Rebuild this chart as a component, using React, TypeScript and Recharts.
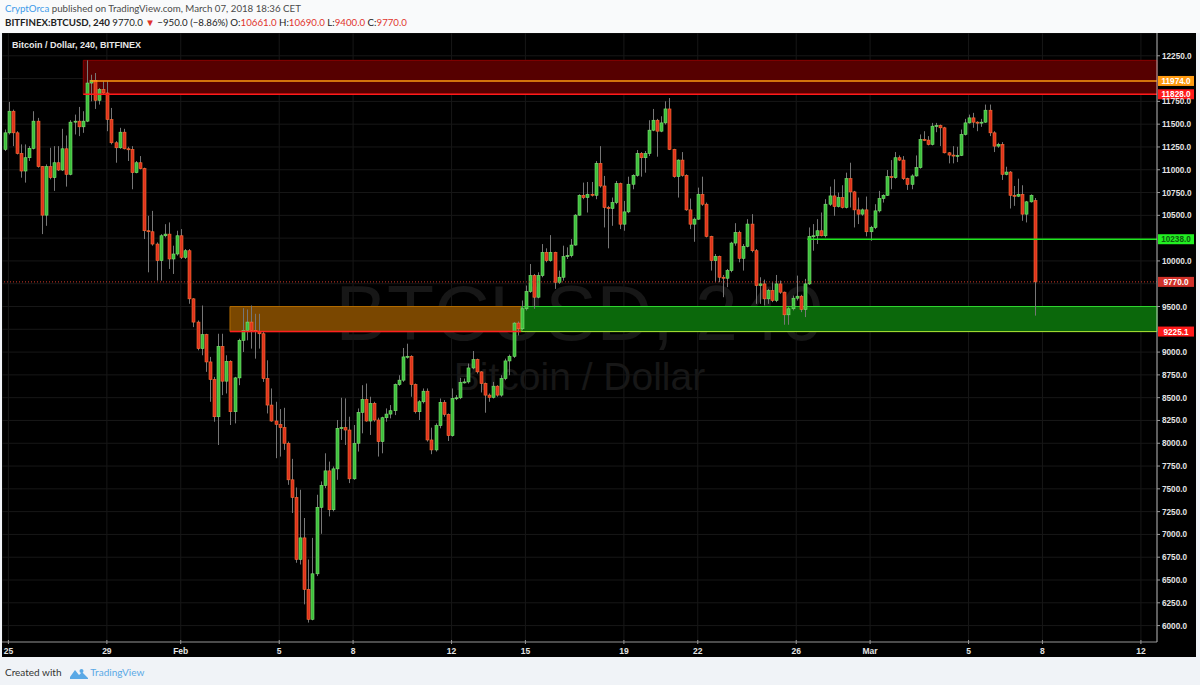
import React from 'react';
import {
  ComposedChart,
  Bar,
  XAxis,
  YAxis,
  CartesianGrid,
  ReferenceArea,
  ReferenceLine,
} from 'recharts';

// BITFINEX:BTCUSD 240 (4h) candles. Slot 0 = Jan 25 00:00 UTC, first candle is one slot earlier.
const FIRST_SLOT = -1;

const opens = [
  11223, 11405, 11642, 11405, 11179, 10986, 11132, 11234, 11533, 11034,
  10502, 11034, 10913, 11077, 10997, 11230, 10950, 11522, 11533, 11471,
  11533, 11951, 11980, 11762, 11879, 11842, 11551, 11296, 11241, 11412,
  11230, 11223, 10968, 11077, 11012, 10331, 10320, 10185, 10003, 10276,
  10294, 10021, 10076, 10276, 10039, 10112, 9584, 9329, 9038, 9191,
  8892, 8699, 8291, 9063, 8681, 8899, 8346, 8717, 9129, 9238,
  9329, 9238, 9227, 9201, 8710, 8419, 8244, 8207, 8171, 8000,
  7599, 7406, 6725, 6962, 6397, 6069, 6568, 7297, 7537, 7697,
  7271, 7719, 8164, 8171, 8145, 7610, 8000, 8338, 8480, 8244,
  8437, 8255, 8018, 8280, 8320, 8357, 8644, 8692, 8947, 8954,
  8644, 8346, 8455, 8571, 8036, 7927, 8193, 8448, 8317, 8083,
  8491, 8499, 8666, 8673, 8826, 8917, 8783, 8655, 8528, 8502,
  8626, 8528, 8710, 8903, 8954, 9318, 9256, 9475, 9664, 9839,
  9602, 9839, 10094, 10003, 10094, 9766, 9821, 10047, 10058, 10174,
  10502, 10720, 10695, 10731, 10720, 11070, 10822, 10586, 10575, 10640,
  10848, 10403, 10538, 10841, 10939, 11179, 11132, 11179, 11434, 11543,
  11423, 11514, 11667, 11223, 10924, 11106, 10939, 10560, 10403, 10458,
  10731, 10622, 10269, 10003, 10050, 9821, 9810, 9894, 10196, 10312,
  10028, 10160, 10404, 10112, 9730, 9748, 9584, 9675, 9566, 9748,
  9657, 9409, 9475, 9591, 9613, 9468, 9748, 10269, 10276, 10331,
  10276, 10622, 10713, 10596, 10695, 10586, 10902, 10757, 10560, 10513,
  10560, 10320, 10367, 10549, 10684, 10720, 10924, 10913, 11132, 11106,
  10902, 10840, 10932, 11023, 11332, 11325, 11278, 11478, 11485, 11460,
  11186, 11161, 11150, 11157, 11387, 11514, 11569, 11522, 11514, 11522,
  11653, 11405, 11259, 11278, 10950, 10975, 10720, 10710, 10731, 10513,
  10648, 10661,
];

const highs = [
  11441, 11744, 11660, 11423, 11278, 11278, 11259, 11642, 11569, 11041,
  11059, 11241, 11259, 11259, 11449, 11376, 11544, 11605, 11689, 11642,
  12200, 12042, 12061, 11897, 11970, 11970, 11678, 11314, 11460, 11449,
  11252, 11259, 11096, 11150, 11023, 10495, 10549, 10203, 10294, 10403,
  10422, 10167, 10331, 10349, 10130, 10130, 9591, 9347, 9511, 9201,
  8947, 8728, 9201, 9201, 8965, 8910, 8728, 9147, 9482, 9467,
  9511, 9420, 9420, 9220, 8910, 8601, 8455, 8375, 8389, 8018,
  7829, 7515, 7490, 7180, 6725, 6962, 7435, 7581, 7890, 7799,
  7745, 8255, 8499, 8492, 8291, 8200, 8382, 8637, 8655, 8510,
  8455, 8280, 8291, 8382, 8419, 8655, 8746, 9045, 9092, 8965,
  8655, 8473, 8601, 8601, 8171, 8218, 8491, 8473, 8327, 8601,
  8528, 8717, 8710, 8874, 9012, 8928, 8790, 8666, 8546, 8673,
  8637, 8746, 8928, 8972, 9329, 9336, 9566, 9730, 9966, 9857,
  9875, 10185, 10138, 10283, 10101, 9894, 10167, 10149, 10240, 10513,
  10731, 10859, 10866, 10866, 11095, 11259, 10932, 10604, 10695, 10877,
  10859, 10658, 10924, 10950, 11216, 11194, 11205, 11543, 11667, 11558,
  11587, 11751, 11787, 11230, 11114, 11194, 10950, 10684, 10476, 10804,
  10924, 10640, 10276, 10076, 10058, 9846, 9912, 10210, 10414, 10331,
  10185, 10458, 10513, 10130, 9821, 9795, 9693, 9766, 9846, 9784,
  9664, 9493, 9620, 9839, 9628, 9803, 10367, 10404, 10458, 10531,
  10677, 10815, 10895, 10750, 10830, 10968, 11077, 10768, 10695, 10575,
  10706, 10385, 10622, 10768, 10731, 10997, 11106, 11194, 11157, 11150,
  10913, 10950, 11157, 11387, 11423, 11369, 11514, 11514, 11496, 11471,
  11194, 11259, 11252, 11441, 11558, 11605, 11624, 11532, 11558, 11715,
  11715, 11423, 11296, 11303, 11033, 10986, 10822, 10902, 10830, 10658,
  10730, 10690,
];

const lows = [
  11205, 11387, 11259, 11168, 10913, 10859, 11096, 11223, 11023, 10294,
  10385, 10895, 10768, 10986, 10986, 10815, 10939, 11387, 11369, 11405,
  11522, 11751, 11667, 11715, 11824, 11423, 11278, 11077, 11230, 11223,
  11096, 10786, 10961, 11004, 10240, 9875, 10167, 9784, 9784, 10258,
  9912, 9857, 10058, 10021, 10021, 9530, 9274, 9019, 8965, 8783,
  8455, 8236, 7981, 8528, 8546, 8200, 8218, 8637, 9001, 9129,
  9038, 8928, 9038, 8673, 8327, 8236, 7836, 7854, 7927, 7544,
  7235, 6689, 6670, 6233, 6033, 6058, 6543, 7007, 7508, 7198,
  7253, 7599, 8036, 7981, 7563, 7599, 7909, 8109, 8236, 8091,
  8236, 7854, 7890, 8236, 8273, 8309, 8630, 8673, 8928, 8510,
  8327, 8255, 8437, 8018, 7880, 7909, 8164, 8291, 8025, 8073,
  8473, 8484, 8655, 8655, 8812, 8764, 8557, 8335, 8455, 8491,
  8510, 8510, 8692, 8746, 8936, 9183, 9238, 9456, 9650, 9475,
  9590, 9821, 9985, 9992, 9693, 9748, 9784, 10021, 10039, 10167,
  10495, 10677, 10531, 10706, 10677, 10804, 10367, 10138, 10385, 10622,
  10349, 10331, 10524, 10786, 10924, 10924, 10968, 11150, 11423, 11143,
  11412, 11496, 11216, 10913, 10695, 10924, 10549, 10349, 10210, 10451,
  10604, 10258, 9894, 9766, 9766, 9602, 9712, 9875, 10167, 9985,
  9894, 10149, 10094, 9529, 9529, 9511, 9529, 9548, 9548, 9639,
  9300, 9300, 9457, 9566, 9438, 9384, 9737, 10112, 10185, 10269,
  10258, 10604, 10495, 10586, 10575, 10575, 10586, 10367, 10404, 10495,
  10269, 10221, 10349, 10531, 10640, 10713, 10786, 10902, 11095, 10888,
  10779, 10786, 10924, 11012, 11314, 11267, 11267, 11412, 11259, 11179,
  11070, 11070, 11084, 11150, 11376, 11507, 11460, 11423, 11471, 11514,
  11369, 11194, 11241, 10888, 10939, 10575, 10604, 10700, 10440, 10422,
  10640, 9400,
];

const closes = [
  11405, 11642, 11405, 11179, 10986, 11132, 11234, 11533, 11034, 10502,
  11034, 10913, 11077, 10997, 11230, 10950, 11522, 11533, 11471, 11533,
  11951, 11980, 11762, 11879, 11842, 11551, 11296, 11241, 11412, 11230,
  11223, 10968, 11077, 11012, 10331, 10320, 10185, 10003, 10276, 10294,
  10021, 10076, 10276, 10039, 10112, 9584, 9329, 9038, 9191, 8892,
  8699, 8291, 9063, 8681, 8899, 8346, 8717, 9129, 9238, 9329,
  9238, 9227, 9201, 8710, 8419, 8244, 8207, 8171, 8000, 7599,
  7406, 6725, 6962, 6397, 6069, 6568, 7297, 7537, 7697, 7271,
  7719, 8164, 8171, 8145, 7610, 8000, 8338, 8480, 8244, 8437,
  8255, 8018, 8280, 8320, 8357, 8644, 8692, 8947, 8954, 8644,
  8346, 8455, 8571, 8036, 7927, 8193, 8448, 8317, 8083, 8491,
  8499, 8666, 8673, 8826, 8917, 8783, 8655, 8528, 8502, 8626,
  8528, 8710, 8903, 8954, 9318, 9256, 9475, 9664, 9839, 9602,
  9839, 10094, 10003, 10094, 9766, 9821, 10047, 10058, 10174, 10502,
  10720, 10695, 10731, 10720, 11070, 10822, 10586, 10575, 10640, 10848,
  10403, 10538, 10841, 10939, 11179, 11132, 11179, 11434, 11543, 11423,
  11514, 11667, 11223, 10924, 11106, 10939, 10560, 10403, 10458, 10731,
  10622, 10269, 10003, 10050, 9821, 9810, 9894, 10196, 10312, 10028,
  10160, 10404, 10112, 9730, 9748, 9584, 9675, 9566, 9748, 9657,
  9409, 9475, 9591, 9613, 9468, 9748, 10269, 10276, 10331, 10276,
  10622, 10713, 10596, 10695, 10586, 10902, 10757, 10560, 10513, 10560,
  10320, 10367, 10549, 10684, 10720, 10924, 10913, 11132, 11106, 10902,
  10840, 10932, 11023, 11332, 11325, 11278, 11478, 11485, 11460, 11186,
  11161, 11150, 11157, 11387, 11514, 11569, 11522, 11514, 11522, 11653,
  11405, 11259, 11278, 10950, 10975, 10720, 10710, 10731, 10513, 10648,
  10720, 9770,
];

// date axis: slot index of each day label (6 slots per day)
const xTicks = [0, 24, 42, 66, 84, 108, 126, 150, 168, 192, 210, 234, 252, 276];
const xTickLabels = ['25', '29', 'Feb', '5', '8', '12', '15', '19', '22', '26', 'Mar', '5', '8', '12'];
const X_DOMAIN = [-1.56, 279.92];

const yTicks = [
  6000, 6250, 6500, 6750, 7000, 7250, 7500, 7750, 8000, 8250, 8500, 8750, 9000,
  9250, 9500, 9750, 10000, 10250, 10500, 10750, 11000, 11250, 11500, 11750, 12000, 12250,
];
const hiddenYTicks = [12000, 10250, 9750, 9250]; // covered by the price tags
const Y_DOMAIN = [5820, 12500];

// drawn levels
const supplyZone = { from: 18.25, top: 12200, bottom: 11828 };
const orangeLevel = { from: 20, price: 11974 };
const oldZone = { from: 54, to: 125, top: 9500, bottom: 9225.1 };
const demandZone = { from: 125, top: 9500, bottom: 9225.1 };
const breakLevel = { from: 194.7, price: 10238 };
const lastPrice = 9770;

const candles = closes.map((c, i) => ({
  t: FIRST_SLOT + i,
  open: opens[i],
  high: highs[i],
  low: lows[i],
  close: c,
}));

const UP = '#3cbf3c';
const UP_EDGE = '#7fe274';
const DOWN = '#dc321d';
const DOWN_EDGE = '#ff7035';
const WICK = '#767676';
const AXIS_FONT = '"Liberation Sans", Arial, sans-serif';

const Candle = (props: any) => {
  const { x, y, width, height, payload } = props;
  if (!payload || x == null || y == null) return null;
  const { open, close, high, low } = payload;
  const up = close >= open;
  const cx = Math.round(x + width / 2) + 0.5;
  const span = high - low;
  const k = span > 0 ? height / span : 0;
  const yO = y + (high - open) * k;
  const yC = y + (high - close) * k;
  const top = Math.min(yO, yC);
  const bh = Math.max(1, Math.abs(yO - yC));
  return (
    <g>
      <line x1={cx} x2={cx} y1={y} y2={y + height} stroke={WICK} strokeWidth={1} />
      <rect
        x={cx - 1.5}
        y={top}
        width={3}
        height={bh}
        fill={up ? UP : DOWN}
        stroke={up ? UP_EDGE : DOWN_EDGE}
        strokeWidth={0.6}
      />
    </g>
  );
};

const PriceTick = (props: any) => {
  const { x, y, payload } = props;
  if (hiddenYTicks.includes(payload.value)) return null;
  return (
    <g>
      <line x1={x} x2={x + 3} y1={y} y2={y} stroke="#9a9a9a" />
      <text x={x + 5} y={y + 3} fill="#e4e4e4" fontSize={8.2} fontWeight="bold" fontFamily={AXIS_FONT}>
        {payload.value.toFixed(1)}
      </text>
    </g>
  );
};

const DateTick = (props: any) => {
  const { x, y, payload } = props;
  const i = xTicks.indexOf(payload.value);
  return (
    <g>
      <line x1={x} x2={x} y1={y - 2} y2={y + 2} stroke="#9a9a9a" />
      <text x={x} y={y + 12} textAnchor="middle" fill="#e4e4e4" fontSize={8.5} fontWeight="bold" fontFamily={AXIS_FONT}>
        {xTickLabels[i]}
      </text>
    </g>
  );
};

const tag = (text: string, bg: string, fg: string) => (props: any) => {
  const vb = props.viewBox || {};
  const right = (vb.x || 0) + (vb.width || 0);
  const cy = (vb.y || 0) + (vb.height || 0) / 2;
  return (
    <g>
      <rect x={right + 1} y={cy - 5} width={36} height={10} fill={bg} />
      <text x={right + 19} y={cy + 3} textAnchor="middle" fill={fg} fontSize={8.2} fontWeight="bold" fontFamily={AXIS_FONT}>
        {text}
      </text>
    </g>
  );
};

const TvLogo = () => (
  <svg width={18} height={11} viewBox="0 0 18 11" style={{ verticalAlign: 'middle' }}>
    <path d="M0 9 L5 2 L9 7 L12 4 L18 10 L18 11 L0 11 Z" fill="#5aa9e6" />
    <circle cx={11.5} cy={3} r={2} fill="#5aa9e6" />
  </svg>
);

export default function App() {
  return (
    <div
      style={{
        position: 'absolute',
        left: 0,
        top: 0,
        width: 1200,
        height: 685,
        background: '#f0f3f7',
        overflow: 'hidden',
        fontFamily: 'Lato, sans-serif',
      }}
    >
      {/* header */}
      <div style={{ position: 'absolute', left: 0, top: 0, width: 1200, height: 33, background: '#f9fafb' }} />
      <div style={{ position: 'absolute', left: 5, top: 1, fontSize: 9.7, lineHeight: '14px', color: '#4a4a4a', whiteSpace: 'nowrap' }}>
        <span style={{ color: '#3d9be9' }}>CryptOrca</span> published on TradingView.com, March 07, 2018 18:36 CET
      </div>
      <div style={{ position: 'absolute', left: 5, top: 15, fontSize: 9.7, lineHeight: '14px', color: '#222', whiteSpace: 'nowrap' }}>
        <b>BITFINEX:BTCUSD, 240</b> 9770.0 <span style={{ color: '#e0332b' }}>▼</span> −950.0 (−8.86%){' '}
        O:<span style={{ color: '#e0332b' }}>10661.0</span> H:<span style={{ color: '#e0332b' }}>10690.0</span>{' '}
        L:<span style={{ color: '#e0332b' }}>9400.0</span> C:<span style={{ color: '#e0332b' }}>9770.0</span>
      </div>

      {/* chart panel */}
      <div style={{ position: 'absolute', left: 2, top: 33, width: 1194, height: 624, background: '#000' }}>
        <div
          style={{
            position: 'absolute',
            left: 0,
            width: 1155,
            top: 240,
            textAlign: 'center',
            fontFamily: AXIS_FONT,
            fontSize: 77,
            lineHeight: '80px',
            color: '#171717',
            whiteSpace: 'nowrap',
          }}
        >
          BTCUSD, 240
        </div>
        <div
          style={{
            position: 'absolute',
            left: 0,
            width: 1155,
            top: 322,
            textAlign: 'center',
            fontFamily: AXIS_FONT,
            fontSize: 39,
            lineHeight: '44px',
            color: '#171717',
            whiteSpace: 'nowrap',
          }}
        >
          Bitcoin / Dollar
        </div>
        <div style={{ position: 'absolute', left: 0, top: 0 }}>
          <ComposedChart width={1194} height={624} data={candles} margin={{ top: 0, right: 0, bottom: 0, left: 0 }}>
            <CartesianGrid stroke="#171717" />
            <XAxis
              type="number"
              dataKey="t"
              domain={X_DOMAIN}
              ticks={xTicks}
              interval={0}
              allowDataOverflow
              height={15}
              tickSize={0}
              tickMargin={0}
              tick={<DateTick />}
              axisLine={{ stroke: '#8c8c8c' }}
              tickLine={false}
            />
            <YAxis
              orientation="right"
              domain={Y_DOMAIN}
              ticks={yTicks}
              interval={0}
              allowDataOverflow
              width={39}
              tickSize={0}
              tickMargin={0}
              tick={<PriceTick />}
              axisLine={{ stroke: '#b0b0b0' }}
              tickLine={false}
            />
            <Bar
              dataKey={(d: any) => [d.low, d.high]}
              barSize={3}
              shape={<Candle />}
              isAnimationActive={false}
            />
            <ReferenceArea
              x1={supplyZone.from}
              x2={X_DOMAIN[1]}
              y1={supplyZone.bottom}
              y2={supplyZone.top}
              fill="#560000"
              fillOpacity={1}
              stroke="#8a0000"
              strokeWidth={1}
              ifOverflow="visible"
            />
            <ReferenceArea
              x1={oldZone.from}
              x2={oldZone.to}
              y1={oldZone.bottom}
              y2={oldZone.top}
              fill="#7a4700"
              fillOpacity={1}
              stroke="#b06a00"
              strokeWidth={1}
              ifOverflow="visible"
            />
            <ReferenceArea
              x1={demandZone.from}
              x2={X_DOMAIN[1]}
              y1={demandZone.bottom}
              y2={demandZone.top}
              fill="#0b680b"
              fillOpacity={1}
              stroke="#2fd42f"
              strokeWidth={1}
              ifOverflow="visible"
            />
            <ReferenceLine
              y={lastPrice}
              stroke="#d23a2a"
              strokeDasharray="1 2"
              ifOverflow="visible"
              label={tag('9770.0', '#d0322a', '#ffffff')}
            />
            <ReferenceLine
              segment={[
                { x: oldZone.from, y: oldZone.bottom },
                { x: oldZone.to, y: oldZone.bottom },
              ]}
              stroke="#ff2020"
              strokeWidth={1.5}
              ifOverflow="visible"
            />
            <ReferenceLine
              segment={[
                { x: demandZone.from, y: demandZone.bottom },
                { x: X_DOMAIN[1], y: demandZone.bottom },
              ]}
              stroke="#a8d830"
              strokeWidth={1}
              ifOverflow="visible"
              label={tag('9225.1', '#ff1a1a', '#ffffff')}
            />
            <ReferenceLine
              segment={[
                { x: breakLevel.from, y: breakLevel.price },
                { x: X_DOMAIN[1], y: breakLevel.price },
              ]}
              stroke="#1ee61e"
              strokeWidth={1.5}
              ifOverflow="visible"
              label={tag('10238.0', '#22f022', '#0f5a0f')}
            />
            <ReferenceLine
              segment={[
                { x: orangeLevel.from, y: orangeLevel.price },
                { x: X_DOMAIN[1], y: orangeLevel.price },
              ]}
              stroke="#ff9a10"
              strokeWidth={1.5}
              ifOverflow="visible"
              label={tag('11974.0', '#ff9a10', '#ffffff')}
            />
            <ReferenceLine
              segment={[
                { x: supplyZone.from, y: supplyZone.bottom },
                { x: X_DOMAIN[1], y: supplyZone.bottom },
              ]}
              stroke="#ff1a1a"
              strokeWidth={1.5}
              ifOverflow="visible"
              label={tag('11828.0', '#ff1a1a', '#ffffff')}
            />
          </ComposedChart>
        </div>
        <div
          style={{
            position: 'absolute',
            left: 10,
            top: 7,
            fontFamily: AXIS_FONT,
            fontSize: 9,
            fontWeight: 'bold',
            color: '#e8e8e8',
            whiteSpace: 'nowrap',
          }}
        >
          Bitcoin / Dollar, 240, BITFINEX
        </div>
      </div>

      {/* footer */}
      <div style={{ position: 'absolute', left: 5, top: 664, fontSize: 10, lineHeight: '16px', color: '#333', whiteSpace: 'nowrap' }}>
        Created with <span style={{ display: 'inline-block', width: 6 }} />
        <TvLogo /> <span style={{ color: '#5aa9e6' }}>TradingView</span>
      </div>
    </div>
  );
}
